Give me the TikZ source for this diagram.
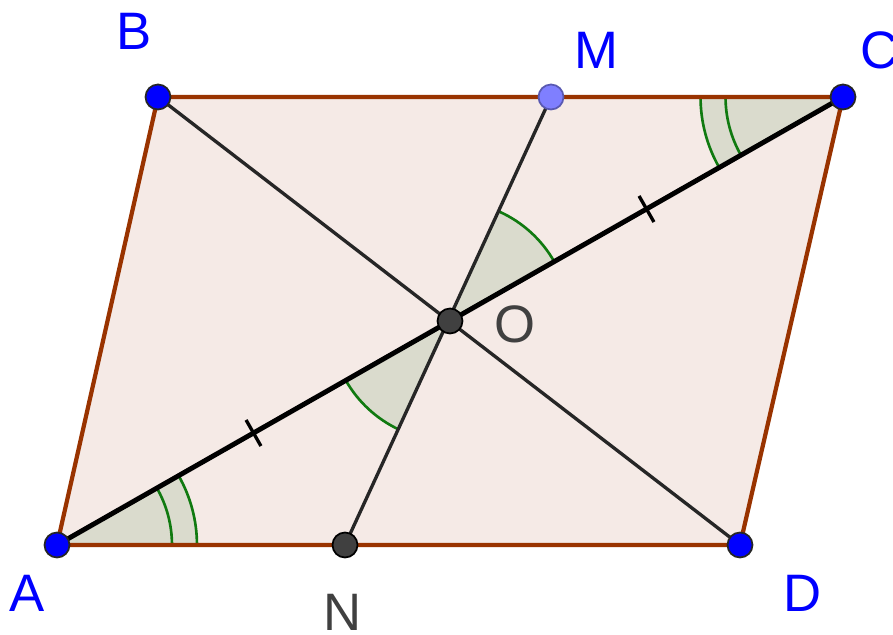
\documentclass[tikz,border=0pt]{standalone}
\usepackage{fontspec}
\setmainfont{Liberation Sans}
\usetikzlibrary{angles,calc}
\definecolor{edge}{HTML}{993300}
\definecolor{face}{HTML}{F5EAE6}
\definecolor{wedge}{HTML}{DADBCD}
\definecolor{arcc}{HTML}{107A10}
\definecolor{ptb}{HTML}{0000FF}
\definecolor{ptm}{HTML}{7F7FFF}
\definecolor{ptg}{HTML}{404040}
\tikzset{
  pt/.style={circle,draw=black!85,line width=1pt,fill=ptb,inner sep=0pt,minimum size=0.5cm},
  mpt/.style={pt,fill=ptm,draw=ptm!70!black},
  gpt/.style={pt,fill=ptg,draw=black},
  lbl/.style={font=\fontsize{30}{30}\selectfont,text=ptb,inner sep=0pt},
  glbl/.style={lbl,text=ptg},
  side/.style={draw=edge,line width=2.4pt},
  diag/.style={draw=black!85,line width=1.9pt},
  wedgefill/.style={draw=arcc,fill=wedge,line width=1.5pt},
  wedgearc/.style={draw=arcc,line width=1.5pt},
}

\begin{document}
\begin{tikzpicture}[x=0.02cm,y=0.02cm]
\useasboundingbox (0,0) rectangle (893,635);
\coordinate (A) at (57,90);
\coordinate (B) at (158,538);
\coordinate (C) at (843,538);
\coordinate (D) at (740,90);
\coordinate (M) at (551,538);
\coordinate (N) at (345,90);
\coordinate (O) at (450,314);
% parallelogram
\fill[face] (A) -- (B) -- (C) -- (D) -- cycle;
% angle marks
\pic[wedgefill,angle radius=2.8cm] {angle=D--A--C};
\pic[wedgearc,angle radius=2.3cm] {angle=D--A--C};
\pic[wedgefill,angle radius=2.85cm] {angle=B--C--A};
\pic[wedgearc,angle radius=2.35cm] {angle=B--C--A};
\pic[wedgefill,angle radius=2.4cm] {angle=C--O--M};
\pic[wedgefill,angle radius=2.4cm] {angle=A--O--N};
% sides and segments
\draw[side] (A) -- (B) -- (C) -- (D) -- cycle;
\draw[diag] (B) -- (D);
\draw[diag] (M) -- (N);
\draw[diag,draw=black,line width=2.8pt] (A) -- (C);
% equal ticks
\coordinate (t1) at ($(A)!0.5!(O)$);
\coordinate (t2) at ($(O)!0.5!(C)$);
\draw[diag,draw=black] ($(t1)!0.3cm!90:(O)$) -- ($(t1)!0.3cm!-90:(O)$);
\draw[diag,draw=black] ($(t2)!0.3cm!90:(C)$) -- ($(t2)!0.3cm!-90:(C)$);
% points
\node[pt] (pA) at (A) {};
\node[pt] (pB) at (B) {};
\node[pt] (pC) at (C) {};
\node[pt] (pD) at (D) {};
\node[mpt] (pM) at (M) {};
\node[gpt] (pN) at (N) {};
\node[gpt] (pO) at (O) {};
% labels
\node[lbl] (lA) at (27,42) {A};
\node[lbl] (lB) at (134,604) {B};
\node[lbl] (lC) at (880,585) {C};
\node[lbl] (lD) at (803,42) {D};
\node[lbl] (lM) at (596,585) {M};
\node[glbl] (lN) at (343,23) {N};
\node[glbl] (lO) at (515,311) {O};
\end{tikzpicture}
\end{document}
